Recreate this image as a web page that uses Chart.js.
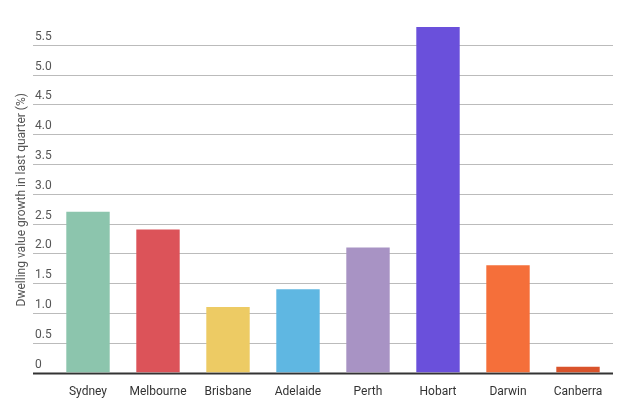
<!DOCTYPE html>
<html>
<head>
<meta charset="utf-8">
<script src="https://cdn.jsdelivr.net/npm/chart.js@4"></script>
<style>
  html, body { margin: 0; padding: 0; background: #fff; }
  #wrap { width: 640px; height: 407px; }
</style>
</head>
<body>
<div id="wrap"><canvas id="bar"></canvas></div>
<script>
const cities = ["Sydney", "Melbourne", "Brisbane", "Adelaide", "Perth", "Hobart", "Darwin", "Canberra"];
const growth = [2.7, 2.4, 1.1, 1.4, 2.1, 5.8, 1.8, 0.1];
const barColors = ["#8cc5ad", "#dc5359", "#edcb64", "#5fb7e2", "#a893c4", "#6a50db", "#f56f3a", "#d9532b"];
const yTicks = [0, 0.5, 1.0, 1.5, 2.0, 2.5, 3.0, 3.5, 4.0, 4.5, 5.0, 5.5];
const yTitle = "Dwelling value growth in last quarter (%)";

// gridlines + labels sit above the lines, starting left of the plot
const gridLabels = {
  id: "gridLabels",
  beforeDatasetsDraw(chart) {
    const { ctx, chartArea, scales } = chart;
    const y = scales.y;
    ctx.save();
    ctx.font = "12px Roboto, Arial, sans-serif";
    ctx.fillStyle = "#555";
    ctx.textAlign = "left";
    ctx.textBaseline = "bottom";
    yTicks.forEach((v) => {
      const py = Math.round(y.getPixelForValue(v)) + 0.5;
      ctx.strokeStyle = v === 0 ? "#333" : "#bbb";
      ctx.lineWidth = v === 0 ? 2 : 1;
      ctx.beginPath();
      ctx.moveTo(33, py);
      ctx.lineTo(chartArea.right, py);
      ctx.stroke();
      ctx.fillText(v === 0 ? "0" : v.toFixed(1), 35, py - 3);
    });
    ctx.translate(22, (chartArea.top + chartArea.bottom) / 2);
    ctx.rotate(-Math.PI / 2);
    ctx.textAlign = "center";
    ctx.textBaseline = "middle";
    ctx.fillText(yTitle, 0, 0);
    ctx.restore();
  },
};

new Chart(document.getElementById("bar").getContext("2d"), {
  type: "bar",
  data: {
    labels: cities,
    datasets: [
      {
        label: "Growth",
        data: growth,
        backgroundColor: barColors,
        barPercentage: 0.62,
        categoryPercentage: 1,
      },
    ],
  },
  options: {
    responsive: true,
    maintainAspectRatio: false,
    animation: false,
    layout: { padding: { left: 53, right: 27, top: 27, bottom: 4 } },
    plugins: { legend: { display: false }, tooltip: { enabled: false } },
    scales: {
      x: {
        grid: { display: false },
        border: { display: false },
        ticks: { color: "#333", padding: 4, font: { size: 12, family: "Roboto, Arial, sans-serif" } },
      },
      y: { display: false, min: 0, max: 5.8 },
    },
  },
  plugins: [gridLabels],
});
</script>
</body>
</html>
